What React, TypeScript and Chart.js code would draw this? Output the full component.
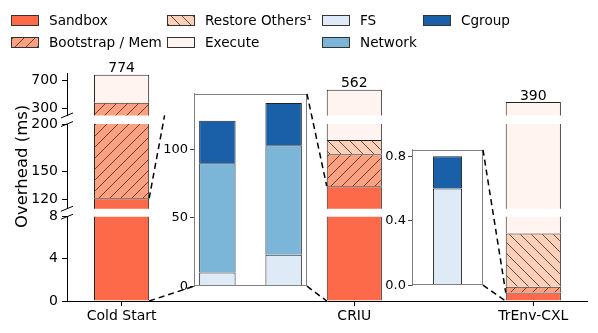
import React, { useEffect, useRef } from 'react';
import { Chart, registerables } from 'chart.js';

Chart.register(...registerables);

const FONT = "'DejaVu Sans', sans-serif";
Chart.defaults.font.family = FONT;
Chart.defaults.color = '#000';

// ---------- data ----------
const categories = ['Cold Start', 'CRIU', 'TrEnv-CXL'];
const sandboxMs = [121, 134, 0.8];
const bootstrapMemMs = [258, 34, 0.55];
const restoreOthersMs = [0, 15, 5.05];
const executeMs = [395, 379, 383.6];

const breakdownCategories = ['Cold Start', 'CRIU'];
const fsMs = [10, 23];
const networkMs = [80, 80];
const cgroupMs = [31, 31];

const trenvCategories = ['TrEnv-CXL'];
const trenvFsMs = [0.6];
const trenvNetworkMs = [0];
const trenvCgroupMs = [0.2];

const topTicks = [300, 700];
const midTicks = [120, 150, 200];
const bottomTicks = [0, 4, 8];
const inset1Ticks = [0, 50, 100];
const inset2Ticks = [0, 0.4, 0.8];

// ---------- layout / style ----------
const barX = [0, 1.3, 2.3];
const topRange = [200, 800];
const midRange = [110, 200];
const bottomRange = [0, 8];

const COLORS = {
  sandbox: '#fc6a4a',
  bootstrap: '#fca082',
  restore: '#fdd0ba',
  execute: '#fff4ef',
  fs: '#deebf7',
  network: '#7bb6d9',
  cgroup: '#1a60a8',
};
const EDGE = '#222';
const HATCH_INK = 'rgba(70,40,30,0.8)';

const INSET1 = { left: 154, top: 84, width: 156, height: 212 };
const INSET2 = { left: 372, top: 140, width: 114, height: 155 };

function makeHatch(ctx: CanvasRenderingContext2D, fill: string, dir: string) {
  const s = 11;
  const c = document.createElement('canvas');
  c.width = s;
  c.height = s;
  const g = c.getContext('2d')!;
  g.fillStyle = fill;
  g.fillRect(0, 0, s, s);
  g.strokeStyle = HATCH_INK;
  g.lineWidth = 1;
  g.beginPath();
  if (dir === '/') {
    g.moveTo(-1, s + 1); g.lineTo(s + 1, -1);
    g.moveTo(-1, 1); g.lineTo(1, -1);
    g.moveTo(s - 1, s + 1); g.lineTo(s + 1, s - 1);
  } else {
    g.moveTo(-1, -1); g.lineTo(s + 1, s + 1);
    g.moveTo(s - 1, -1); g.lineTo(s + 1, 1);
    g.moveTo(-1, s - 1); g.lineTo(1, s + 1);
  }
  g.stroke();
  return ctx.createPattern(c, 'repeat')!;
}

function yAxis(range: number[], ticks: number[], weight: number, stackWeight: number) {
  return {
    type: 'linear',
    position: 'left',
    stack: 'main',
    stackWeight,
    weight,
    stacked: true,
    min: range[0],
    max: range[1],
    bounds: 'data',
    offset: false,
    grid: { display: true, drawOnChartArea: false, drawTicks: true, tickLength: 5, color: '#000', lineWidth: 1, offset: false },
    border: { display: true, color: '#000', width: 1 },
    ticks: { color: '#000', font: { size: 14, family: FONT }, padding: 4, autoSkip: false },
    afterBuildTicks: (ax: any) => { ax.ticks = ticks.map((v) => ({ value: v })); },
    afterFit: (ax: any) => { ax.width = 67; },
  };
}

function spacer(weight: number, stackWeight: number) {
  return {
    type: 'linear',
    position: 'left',
    stack: 'main',
    stackWeight,
    weight,
    min: 0,
    max: 1,
    offset: false,
    grid: { display: false },
    border: { display: false },
    ticks: { display: false },
    afterFit: (ax: any) => { ax.width = 67; },
  };
}

const mainDecor = {
  id: 'mainDecor',
  afterDraw(chart: any) {
    const ctx = chart.ctx as CanvasRenderingContext2D;
    const { yTop, yMid, yBot, x } = chart.scales;
    ctx.save();
    ctx.strokeStyle = '#000';
    ctx.lineWidth = 1;
    const xm = yTop.right;
    for (const y of [yTop.bottom, yMid.top, yMid.bottom, yBot.top]) {
      ctx.beginPath();
      ctx.moveTo(xm - 6, y + 2.5);
      ctx.lineTo(xm + 6, y - 2.5);
      ctx.stroke();
    }
    ctx.fillStyle = '#000';
    ctx.font = `14px ${FONT}`;
    ctx.textAlign = 'center';
    ctx.textBaseline = 'alphabetic';
    categories.forEach((_, i) => {
      const total = sandboxMs[i] + bootstrapMemMs[i] + restoreOthersMs[i] + executeMs[i];
      ctx.fillText(String(Math.round(total)), x.getPixelForValue(barX[i]), yTop.getPixelForValue(total) - 2.5);
    });
    ctx.restore();
  },
};

const insetFrame = {
  id: 'insetFrame',
  beforeDraw(chart: any) {
    const { ctx, chartArea: a } = chart;
    ctx.save();
    ctx.fillStyle = '#fff';
    ctx.fillRect(a.left, a.top, a.right - a.left, a.bottom - a.top);
    ctx.restore();
  },
  afterDraw(chart: any) {
    const { ctx, chartArea: a } = chart;
    ctx.save();
    ctx.strokeStyle = '#808080';
    ctx.lineWidth = 1;
    ctx.strokeRect(Math.round(a.left) + 0.5, Math.round(a.top) + 0.5, Math.round(a.right - a.left) - 1, Math.round(a.bottom - a.top) - 1);
    ctx.restore();
  },
};

function insetConfig(
  cats: string[],
  series: { label: string; data: number[]; color: string }[],
  ticks: number[],
  fmt: (v: number) => string,
  xMin: number,
  xMax: number,
  barPct: number,
  pad: { top: number; right: number; bottom: number },
) {
  const totals = cats.map((_, i) => series.reduce((s, se) => s + se.data[i], 0));
  const yMax = Math.max(...totals) * 1.05;
  return {
    type: 'bar',
    data: {
      datasets: series.map((se) => ({
        label: se.label,
        data: se.data.map((v, i) => ({ x: i, y: v })),
        backgroundColor: se.color,
        borderColor: EDGE,
        borderWidth: 1,
        borderSkipped: 'start',
        grouped: false,
        barPercentage: barPct,
        categoryPercentage: 1,
      })),
    },
    options: {
      animation: false,
      responsive: false,
      maintainAspectRatio: false,
      layout: { padding: { left: 0, top: pad.top, right: pad.right, bottom: pad.bottom } },
      plugins: { legend: { display: false }, tooltip: { enabled: false } },
      scales: {
        x: {
          type: 'linear',
          min: xMin,
          max: xMax,
          bounds: 'data',
          offset: false,
          grid: { display: false, offset: false },
          border: { display: false },
          ticks: { display: false },
          afterBuildTicks: (ax: any) => { ax.ticks = cats.map((_, i) => ({ value: i })); },
          afterFit: (ax: any) => { ax.height = 0; },
        },
        y: {
          type: 'linear',
          stacked: true,
          min: 0,
          max: yMax,
          bounds: 'data',
          offset: false,
          grid: { display: true, drawOnChartArea: false, tickLength: 4, color: '#444', offset: false },
          border: { display: true, color: '#808080' },
          ticks: { color: '#000', font: { size: 13, family: FONT }, padding: 2, autoSkip: false, callback: (v: number) => fmt(v) },
          afterBuildTicks: (ax: any) => { ax.ticks = ticks.map((v) => ({ value: v })); },
          afterFit: (ax: any) => { ax.width = 40; },
        },
      },
    },
    plugins: [insetFrame],
  } as any;
}

const legendItems = [
  { label: 'Sandbox', fill: COLORS.sandbox, hatch: '', col: 0, row: 0 },
  { label: 'Bootstrap / Mem', fill: COLORS.bootstrap, hatch: '/', col: 0, row: 1 },
  { label: 'Restore Others\u00b9', fill: COLORS.restore, hatch: '\\', col: 1, row: 0 },
  { label: 'Execute', fill: COLORS.execute, hatch: '', col: 1, row: 1 },
  { label: 'FS', fill: COLORS.fs, hatch: '', col: 2, row: 0 },
  { label: 'Network', fill: COLORS.network, hatch: '', col: 2, row: 1 },
  { label: 'Cgroup', fill: COLORS.cgroup, hatch: '', col: 3, row: 0 },
];
const legendColX = [11, 167, 322, 423];
const legendRowY = [20, 42.5];

function patchBackground(fill: string, hatch: string) {
  if (!hatch) return fill;
  const ang = hatch === '/' ? 135 : 45;
  return `repeating-linear-gradient(${ang}deg, ${HATCH_INK} 0px, ${HATCH_INK} 1px, transparent 1px, transparent 7.8px), ${fill}`;
}

export default function App() {
  const mainRef = useRef<HTMLCanvasElement>(null);
  const in1Ref = useRef<HTMLCanvasElement>(null);
  const in2Ref = useRef<HTMLCanvasElement>(null);
  const ovRef = useRef<HTMLCanvasElement>(null);

  useEffect(() => {
    const mainCtx = mainRef.current!.getContext('2d')!;
    const bootPat = makeHatch(mainCtx, COLORS.bootstrap, '/');
    const restPat = makeHatch(mainCtx, COLORS.restore, '\\');
    const series = [
      { label: 'Sandbox', data: sandboxMs, bg: COLORS.sandbox as any },
      { label: 'Bootstrap / Mem', data: bootstrapMemMs, bg: bootPat as any },
      { label: 'Restore Others\u00b9', data: restoreOthersMs, bg: restPat as any },
      { label: 'Execute', data: executeMs, bg: COLORS.execute as any },
    ];
    const segIds = ['yTop', 'yMid', 'yBot'];
    const datasets = segIds.flatMap((id) =>
      series.map((se) => ({
        label: se.label,
        yAxisID: id,
        xAxisID: 'x',
        data: se.data.map((v, i) => ({ x: barX[i], y: v })),
        backgroundColor: se.bg,
        borderColor: EDGE,
        borderWidth: 1,
        borderSkipped: 'start',
        grouped: false,
        barPercentage: 0.308,
        categoryPercentage: 1,
      })),
    );

    const main = new Chart(mainRef.current!, {
      type: 'bar',
      data: { datasets },
      options: {
        animation: false,
        responsive: false,
        maintainAspectRatio: false,
        layout: { padding: { top: 73, left: 0, right: 11, bottom: 0 } },
        plugins: { legend: { display: false }, tooltip: { enabled: false } },
        scales: {
          x: {
            type: 'linear',
            position: 'bottom',
            min: -0.305,
            max: 2.6,
            bounds: 'data',
            offset: false,
            grid: { display: true, drawOnChartArea: false, tickLength: 5, color: '#000', offset: false },
            border: { display: true, color: '#000', width: 1 },
            ticks: {
              color: '#000',
              font: { size: 14, family: FONT },
              padding: 2,
              autoSkip: false,
              maxRotation: 0,
              callback: (_v: any, i: number) => categories[i],
            },
            afterBuildTicks: (ax: any) => { ax.ticks = barX.map((v) => ({ value: v })); },
            afterFit: (ax: any) => { ax.height = 32; },
          },
          yTop: yAxis(topRange, topTicks, 5, 42.45),
          gap1: spacer(4, 8.6),
          yMid: {
            ...yAxis(midRange, midTicks, 3, 84.7),
            title: {
              display: true,
              text: 'Overhead (ms)',
              color: '#000',
              font: { size: 16.5, family: FONT },
              padding: { top: 12.5, bottom: 0 },
            },
          },
          gap2: spacer(2, 8),
          yBot: yAxis(bottomRange, bottomTicks, 1, 84.3),
        } as any,
      },
      plugins: [mainDecor],
    } as any);

    const in1 = new Chart(
      in1Ref.current!,
      insetConfig(
        breakdownCategories,
        [
          { label: 'FS', data: fsMs, color: COLORS.fs },
          { label: 'Network', data: networkMs, color: COLORS.network },
          { label: 'Cgroup', data: cgroupMs, color: COLORS.cgroup },
        ],
        inset1Ticks,
        (v) => String(v),
        -0.3525,
        1.3525,
        0.55,
        { top: 5, right: 3, bottom: 5 },
      ),
    );
    const in2 = new Chart(
      in2Ref.current!,
      insetConfig(
        trenvCategories,
        [
          { label: 'FS', data: trenvFsMs, color: COLORS.fs },
          { label: 'Network', data: trenvNetworkMs, color: COLORS.network },
          { label: 'Cgroup', data: trenvCgroupMs, color: COLORS.cgroup },
        ],
        inset2Ticks,
        (v) => v.toFixed(1),
        -1,
        1,
        0.41,
        { top: 8, right: 3, bottom: 6 },
      ),
    );

    // connector lines
    const ov = ovRef.current!.getContext('2d')!;
    ov.clearRect(0, 0, 598, 333);
    const sc: any = main.scales;
    const el: any = main.getDatasetMeta(0).data[0];
    const halfW = el.width / 2;
    const xCS = sc.x.getPixelForValue(barX[0]);
    const xCR = sc.x.getPixelForValue(barX[1]);
    const xTR = sc.x.getPixelForValue(barX[2]);
    const a1 = in1.chartArea;
    const a2 = in2.chartArea;
    const b1 = { l: INSET1.left + a1.left, r: INSET1.left + a1.right, t: INSET1.top + a1.top, b: INSET1.top + a1.bottom };
    const b2 = { l: INSET2.left + a2.left, r: INSET2.left + a2.right, t: INSET2.top + a2.top, b: INSET2.top + a2.bottom };
    const base = sc.yBot.getPixelForValue(0);
    const csTop = sc.yMid.getPixelForValue(sandboxMs[0]);
    const lines = [
      [xCS + halfW, csTop, xCS + halfW + (b1.l - xCS - halfW) * 0.344, sc.yTop.bottom],
      [xCS + halfW, base, b1.l, b1.b],
      [b1.r, b1.t, xCR - halfW, sc.yMid.getPixelForValue(sandboxMs[1])],
      [b1.r, b1.b, xCR - halfW, base],
      [b2.r, b2.t, xTR - halfW, sc.yBot.getPixelForValue(sandboxMs[2])],
      [b2.r, b2.b, xTR - halfW, base],
    ];
    ov.save();
    ov.strokeStyle = '#000';
    ov.lineWidth = 1.5;
    ov.setLineDash([6, 4]);
    for (const [x1, y1, x2, y2] of lines) {
      ov.beginPath();
      ov.moveTo(x1, y1);
      ov.lineTo(x2, y2);
      ov.stroke();
    }
    ov.restore();

    return () => {
      main.destroy();
      in1.destroy();
      in2.destroy();
    };
  }, []);

  const abs = (l: number, t: number, w: number, h: number): React.CSSProperties => ({
    position: 'absolute', left: l, top: t, width: w, height: h,
  });

  return (
    <div style={{ position: 'fixed', left: 0, top: 0, width: 598, height: 333, background: '#fff', overflow: 'hidden', fontFamily: FONT }}>
      <canvas ref={mainRef} width={598} height={333} style={abs(0, 0, 598, 333)} />
      <canvas ref={in1Ref} width={INSET1.width} height={INSET1.height} style={abs(INSET1.left, INSET1.top, INSET1.width, INSET1.height)} />
      <canvas ref={in2Ref} width={INSET2.width} height={INSET2.height} style={abs(INSET2.left, INSET2.top, INSET2.width, INSET2.height)} />
      <canvas ref={ovRef} width={598} height={333} style={{ ...abs(0, 0, 598, 333), pointerEvents: 'none' }} />
      {legendItems.map((it) => (
        <div key={it.label}>
          <div
            style={{
              ...abs(legendColX[it.col], legendRowY[it.row] - 5.5, 28, 11),
              boxSizing: 'border-box',
              border: '1px solid #333',
              background: patchBackground(it.fill, it.hatch),
            }}
          />
          <div
            style={{
              position: 'absolute',
              left: legendColX[it.col] + 38,
              top: legendRowY[it.row] - 8.5,
              fontSize: 13.6,
              lineHeight: '16px',
              color: '#000',
              whiteSpace: 'nowrap',
              fontFamily: FONT,
            }}
          >
            {it.label}
          </div>
        </div>
      ))}
    </div>
  );
}
